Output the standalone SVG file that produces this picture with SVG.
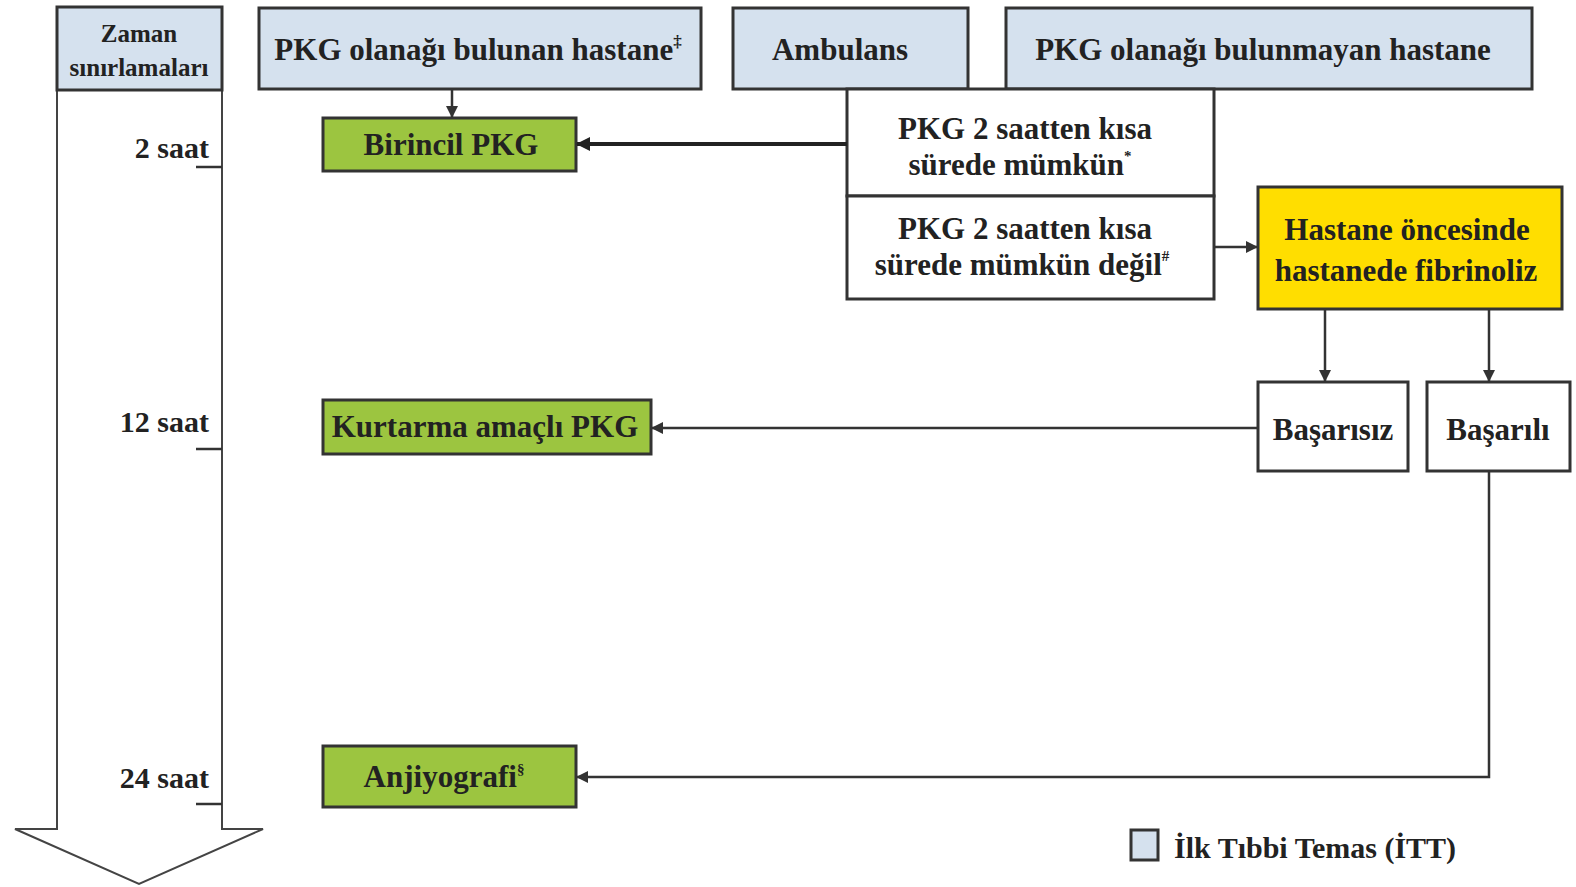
<svg xmlns="http://www.w3.org/2000/svg" width="1576" height="887" viewBox="0 0 1576 887">
<style>
text{font-family:"Liberation Serif","Times New Roman",serif;font-weight:bold;fill:#222;}
.t{font-size:31px;text-anchor:middle;}
.s{font-size:25px;text-anchor:middle;}
.r{font-size:30px;text-anchor:end;}
.blue{fill:#d5e1ee;stroke:#333;stroke-width:3;}
.green{fill:#9cc540;stroke:#333;stroke-width:3;}
.white{fill:#fff;stroke:#333;stroke-width:3;}
.yellow{fill:#ffde00;stroke:#333;stroke-width:3;}
.ln{fill:none;stroke:#333;stroke-width:2.5;}
.thick{fill:none;stroke:#222;stroke-width:4;}
</style>
<defs>
<marker id="ahb" markerWidth="14" markerHeight="14" refX="13" refY="7" orient="auto" markerUnits="userSpaceOnUse" viewBox="0 0 14 14"><path d="M0,0 L14,7 L0,14 z" fill="#222"/></marker>
<marker id="ahm" markerWidth="12" markerHeight="12" refX="11" refY="6" orient="auto" markerUnits="userSpaceOnUse" viewBox="0 0 12 12"><path d="M0,0 L12,6 L0,12 z" fill="#333"/></marker>
</defs>
<rect width="1576" height="887" fill="#fff"/>

<g id="timeline">
<path d="M57,90 L57,829 L15,829 L139,884 L263,829 L222,829 L222,90" fill="#fff" stroke="#444" stroke-width="2"/>
<rect x="57" y="7" width="165" height="83" class="blue"/>
<text class="s" x="139" y="42">Zaman</text>
<text class="s" x="139" y="76">sınırlamaları</text>
<text class="r" x="209" y="158">2 saat</text>
<line x1="196" y1="167" x2="222" y2="167" stroke="#333" stroke-width="2.5"/>
<text class="r" x="209" y="432">12 saat</text>
<line x1="196" y1="449" x2="222" y2="449" stroke="#333" stroke-width="2.5"/>
<text class="r" x="209" y="788">24 saat</text>
<line x1="196" y1="804" x2="222" y2="804" stroke="#333" stroke-width="2.5"/>
</g>

<g id="pkg-hastane">
<rect x="259" y="8" width="442" height="81" class="blue"/>
<text class="t" x="478" y="60">PKG olanağı bulunan hastane<tspan font-size="17" dy="-13">‡</tspan></text>
</g>
<g id="ambulans">
<rect x="733" y="8" width="235" height="81" class="blue"/>
<text class="t" x="840" y="60">Ambulans</text>
</g>
<g id="pkg-yok">
<rect x="1006" y="8" width="526" height="81" class="blue"/>
<text class="t" x="1263" y="60">PKG olanağı bulunmayan hastane</text>
</g>

<g id="birincil">
<rect x="323" y="118" width="253" height="53" class="green"/>
<text class="t" x="451" y="155">Birincil PKG</text>
</g>

<g id="pkg-mumkun">
<rect x="847" y="89" width="367" height="107" class="white"/>
<text class="t" x="1025" y="139">PKG 2 saatten kısa</text>
<text class="t" x="1020" y="175">sürede mümkün<tspan font-size="15" dy="-14">*</tspan></text>
</g>
<g id="pkg-degil">
<rect x="847" y="196" width="367" height="103" class="white"/>
<text class="t" x="1025" y="239">PKG 2 saatten kısa</text>
<text class="t" x="1022" y="275">sürede mümkün değil<tspan font-size="15" dy="-14">#</tspan></text>
</g>

<g id="fibrinoliz">
<rect x="1258" y="187" width="304" height="122" class="yellow"/>
<text class="t" x="1407" y="240">Hastane öncesinde</text>
<text class="t" x="1406" y="281">hastanede fibrinoliz</text>
</g>

<g id="basarisiz">
<rect x="1258" y="382" width="150" height="89" class="white"/>
<text class="t" x="1333" y="440">Başarısız</text>
</g>
<g id="basarili">
<rect x="1427" y="382" width="143" height="89" class="white"/>
<text class="t" x="1498" y="440">Başarılı</text>
</g>

<g id="kurtarma">
<rect x="323" y="400" width="328" height="54" class="green"/>
<text class="t" x="485" y="437">Kurtarma amaçlı PKG</text>
</g>

<g id="anjiyografi">
<rect x="323" y="746" width="253" height="61" class="green"/>
<text class="t" x="444" y="787">Anjiyografi<tspan font-size="15" dy="-13">§</tspan></text>
</g>

<g id="connectors">
<line x1="452" y1="89" x2="452" y2="117" class="ln" stroke-width="3" marker-end="url(#ahm)"/>
<line x1="847" y1="144" x2="577" y2="144" class="thick" marker-end="url(#ahb)"/>
<line x1="1214" y1="247" x2="1257" y2="247" class="ln" marker-end="url(#ahm)"/>
<line x1="1325" y1="309" x2="1325" y2="381" class="ln" marker-end="url(#ahm)"/>
<line x1="1489" y1="309" x2="1489" y2="381" class="ln" marker-end="url(#ahm)"/>
<line x1="1258" y1="428" x2="652" y2="428" class="ln" marker-end="url(#ahm)"/>
<polyline points="1489,471 1489,777 577,777" class="ln" marker-end="url(#ahm)"/>
</g>

<g id="legend">
<rect x="1131" y="830" width="27" height="30" fill="#d5e1ee" stroke="#333" stroke-width="3"/>
<text x="1174" y="858" font-size="30">İlk Tıbbi Temas (İTT)</text>
</g>
</svg>
